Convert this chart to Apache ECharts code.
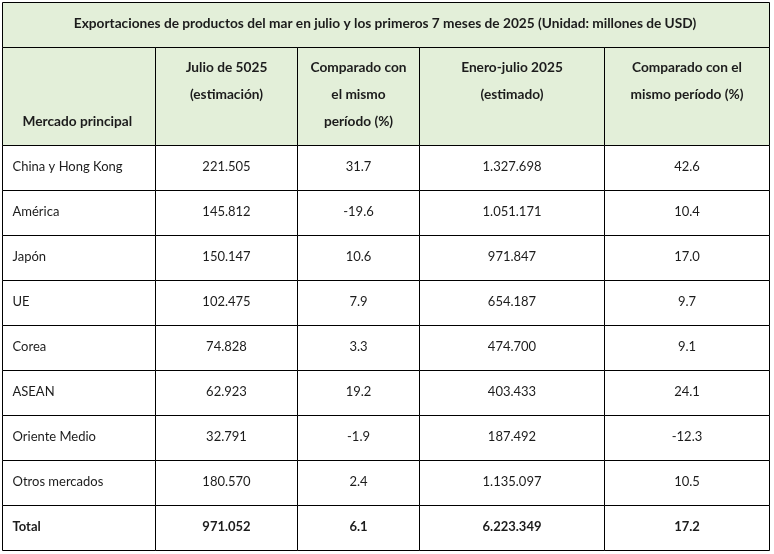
<!DOCTYPE html>
<html>
<head>
<meta charset="utf-8">
<script src="https://cdn.jsdelivr.net/npm/echarts@6/dist/echarts.min.js"></script>
<style>
    html, body { margin: 0; padding: 0; background: #fff; }
    #chart { width: 774px; height: 554px; }
</style>
</head>
<body>
<div id="chart"></div>
<script>
// datos de la tabla
var titulo = 'Exportaciones de productos del mar en julio y los primeros 7 meses de 2025 (Unidad: millones de USD)';
var cabeceras = [
    'Mercado principal',
    'Julio de 5025\n(estimación)',
    'Comparado con\nel mismo\nperíodo (%)',
    'Enero-julio 2025\n(estimado)',
    'Comparado con el\nmismo período (%)'
];
var mercados = ['China y Hong Kong', 'América', 'Japón', 'UE', 'Corea', 'ASEAN', 'Oriente Medio', 'Otros mercados', 'Total'];
var julio = [221505, 145812, 150147, 102475, 74828, 62923, 32791, 180570, 971052];
var julioVar = [31.7, -19.6, 10.6, 7.9, 3.3, 19.2, -1.9, 2.4, 6.1];
var eneroJulio = [1327698, 1051171, 971847, 654187, 474700, 403433, 187492, 1135097, 6223349];
var eneroJulioVar = [42.6, 10.4, 17.0, 9.7, 9.1, 24.1, -12.3, 10.5, 17.2];

// bordes de columnas y filas (px de la tabla)
var colEdges = [0, 153, 295, 417, 602, 767];
var rowEdges = [0, 45, 143, 188, 233, 278, 323, 368, 413, 458, 503, 548];

function miles(n) {
    return String(n).replace(/\B(?=(\d{3})+(?!\d))/g, '.');
}

// celdas: [col, fila, texto]; col -1 = ocupa todo el ancho
var celdas = [[-1, 0, titulo]];
cabeceras.forEach(function (t, c) { celdas.push([c, 1, t]); });
mercados.forEach(function (m, i) {
    var r = i + 2;
    celdas.push([0, r, m]);
    celdas.push([1, r, miles(julio[i])]);
    celdas.push([2, r, julioVar[i].toFixed(1)]);
    celdas.push([3, r, miles(eneroJulio[i])]);
    celdas.push([4, r, eneroJulioVar[i].toFixed(1)]);
});

var lastRow = rowEdges.length - 2;
var fontFam = 'Lato, "Open Sans", sans-serif';

function renderItem(params, api) {
    var c = api.value(0), r = api.value(1);
    var txt = celdas[params.dataIndex][2];
    var xa = c < 0 ? colEdges[0] : colEdges[c];
    var xb = c < 0 ? colEdges[colEdges.length - 1] : colEdges[c + 1];
    var p0 = api.coord([xa, rowEdges[r]]);
    var p1 = api.coord([xb, rowEdges[r + 1]]);
    var x0 = Math.round(p0[0]) + 0.5, y0 = Math.round(p0[1]) + 0.5;
    var x1 = Math.round(p1[0]) + 0.5, y1 = Math.round(p1[1]) + 0.5;
    var header = r <= 1;
    var font = header ? 'bold 13.7px ' : (r === lastRow ? 'bold 13px ' : '13px ');

    var ts = {
        text: txt,
        fill: '#1c1c1c',
        font: font + fontFam,
        lineHeight: 27
    };
    if (r === 0) {
        ts.x = (x0 + x1) / 2 - 1; ts.y = (y0 + y1) / 2 - 1;
        ts.align = 'center'; ts.verticalAlign = 'middle';
    } else if (r === 1 && c === 0) {
        ts.x = x0 + 20; ts.y = 122;
        ts.align = 'left'; ts.verticalAlign = 'middle';
    } else if (r === 1) {
        ts.x = (x0 + x1) / 2; ts.y = y0 + 7;
        ts.align = 'center'; ts.verticalAlign = 'top';
    } else if (c === 0) {
        ts.x = x0 + 10; ts.y = (y0 + y1) / 2 - 1;
        ts.align = 'left'; ts.verticalAlign = 'middle';
    } else {
        ts.x = (x0 + x1) / 2; ts.y = (y0 + y1) / 2 - 1;
        ts.align = 'center'; ts.verticalAlign = 'middle';
    }

    return {
        type: 'group',
        children: [{
            type: 'rect',
            shape: { x: x0, y: y0, width: x1 - x0, height: y1 - y0 },
            style: { fill: header ? '#e3efd9' : '#ffffff', stroke: '#000', lineWidth: 1 }
        }, {
            type: 'text',
            style: ts
        }]
    };
}

var myChart = echarts.init(document.getElementById('chart'));
var option = {
    animation: false,
    grid: { left: 2, top: 2, width: 767, height: 548 },
    xAxis: { type: 'value', min: 0, max: 767, show: false },
    yAxis: { type: 'value', min: 0, max: 548, inverse: true, show: false },
    series: [{
        type: 'custom',
        renderItem: renderItem,
        data: celdas.map(function (d) { return [d[0], d[1]]; }),
        encode: { x: 0, y: 1 },
        silent: true
    }]
};
myChart.setOption(option);
</script>
</body>
</html>
